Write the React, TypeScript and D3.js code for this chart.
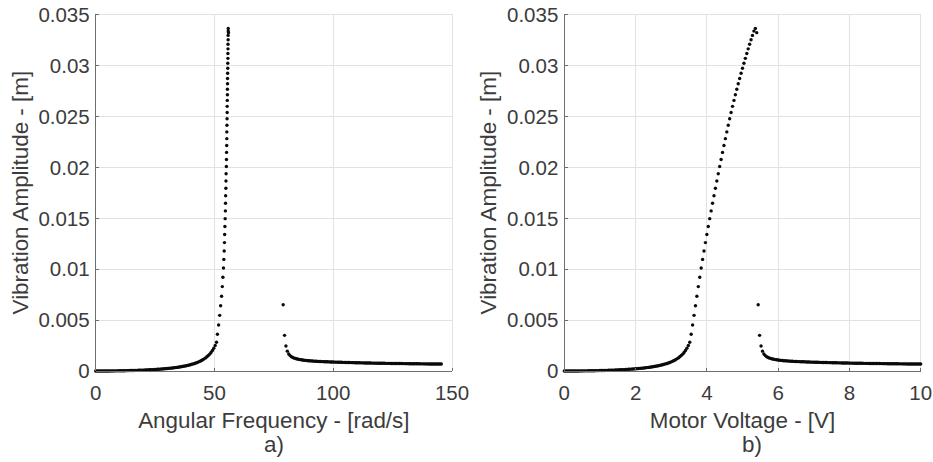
import React from "react";
import * as d3 from "d3";

// motor voltage sweep [V]
const voltage = [
  0.00, 0.04, 0.08, 0.12, 0.16, 0.20, 0.24, 0.28, 0.32, 0.36, 0.40, 0.44, 0.48, 0.52, 0.56, 0.60, 0.64, 0.68, 0.72, 0.76, 0.80, 0.84, 0.88, 0.92, 0.96,
  1.00, 1.04, 1.08, 1.12, 1.16, 1.20, 1.24, 1.28, 1.32, 1.36, 1.40, 1.44, 1.48, 1.52, 1.56, 1.60, 1.64, 1.68, 1.72, 1.76, 1.80, 1.84, 1.88, 1.92, 1.96,
  2.00, 2.04, 2.08, 2.12, 2.16, 2.20, 2.24, 2.28, 2.32, 2.36, 2.40, 2.44, 2.48, 2.52, 2.56, 2.60, 2.64, 2.68, 2.72, 2.76, 2.80, 2.84, 2.88, 2.92, 2.96,
  3.00, 3.04, 3.08, 3.12, 3.16, 3.20, 3.24, 3.28, 3.32, 3.36, 3.40, 3.44, 3.48, 3.52, 3.56, 3.60, 3.64, 3.68, 3.72, 3.76, 3.80, 3.84, 3.88, 3.92, 3.96,
  4.00, 4.04, 4.08, 4.12, 4.16, 4.20, 4.24, 4.28, 4.32, 4.36, 4.40, 4.44, 4.48, 4.52, 4.56, 4.60, 4.64, 4.68, 4.72, 4.76, 4.80, 4.84, 4.88, 4.92, 4.96,
  5.00, 5.04, 5.08, 5.12, 5.16, 5.20, 5.24, 5.28, 5.32, 5.36, 5.40, 5.44, 5.48, 5.52, 5.56, 5.60, 5.64, 5.68, 5.72, 5.76, 5.80, 5.84, 5.88, 5.92, 5.96,
  6.00, 6.04, 6.08, 6.12, 6.16, 6.20, 6.24, 6.28, 6.32, 6.36, 6.40, 6.44, 6.48, 6.52, 6.56, 6.60, 6.64, 6.68, 6.72, 6.76, 6.80, 6.84, 6.88, 6.92, 6.96,
  7.00, 7.04, 7.08, 7.12, 7.16, 7.20, 7.24, 7.28, 7.32, 7.36, 7.40, 7.44, 7.48, 7.52, 7.56, 7.60, 7.64, 7.68, 7.72, 7.76, 7.80, 7.84, 7.88, 7.92, 7.96,
  8.00, 8.04, 8.08, 8.12, 8.16, 8.20, 8.24, 8.28, 8.32, 8.36, 8.40, 8.44, 8.48, 8.52, 8.56, 8.60, 8.64, 8.68, 8.72, 8.76, 8.80, 8.84, 8.88, 8.92, 8.96,
  9.00, 9.04, 9.08, 9.12, 9.16, 9.20, 9.24, 9.28, 9.32, 9.36, 9.40, 9.44, 9.48, 9.52, 9.56, 9.60, 9.64, 9.68, 9.72, 9.76, 9.80, 9.84, 9.88, 9.92, 9.96,
  10.00,
];

// resulting angular frequency [rad/s]
const angularFrequency = [
  0, 0.58, 1.16, 1.73, 2.31, 2.89, 3.47, 4.05, 4.62, 5.20, 5.78, 6.36, 6.94, 7.51, 8.09, 8.67, 9.25, 9.83, 10.40, 10.98,
  11.56, 12.14, 12.72, 13.29, 13.87, 14.45, 15.03, 15.61, 16.18, 16.76, 17.34, 17.92, 18.50, 19.07, 19.65, 20.23, 20.81, 21.39, 21.96, 22.54,
  23.12, 23.70, 24.28, 24.85, 25.43, 26.01, 26.59, 27.17, 27.74, 28.32, 28.90, 29.48, 30.06, 30.63, 31.21, 31.79, 32.37, 32.95, 33.52, 34.10,
  34.68, 35.26, 35.84, 36.41, 36.99, 37.57, 38.15, 38.73, 39.30, 39.88, 40.46, 41.04, 41.62, 42.19, 42.77, 43.35, 43.93, 44.51, 45.08, 45.66,
  46.24, 46.82, 47.40, 47.97, 48.55, 49.13, 49.71, 50.29, 50.86,
  51.25, 51.75, 52.2, 52.6, 53.0, 53.3, 53.55, 53.8, 53.95, 54.1,
  54.2, 54.3, 54.4, 54.5, 54.6, 54.65, 54.7, 54.8, 54.85, 54.9,
  55.0, 55.05, 55.1, 55.15, 55.2, 55.2, 55.25, 55.3, 55.35, 55.35,
  55.4, 55.45, 55.45, 55.5, 55.5, 55.55, 55.6, 55.6, 55.65, 55.65,
  55.7, 55.7, 55.75, 55.75, 55.8, 55.8, 55.9,
  78.92, 79.51, 80.09, 80.68, 81.26, 81.84, 82.43, 83.01, 83.60, 84.18, 84.76, 85.35, 85.93, 86.52, 87.10,
  87.68, 88.27, 88.85, 89.44, 90.02, 90.60, 91.19, 91.77, 92.36, 92.94,
  93.52, 94.11, 94.69, 95.28, 95.86, 96.44, 97.03, 97.61, 98.20, 98.78,
  99.36, 99.95, 100.53, 101.12, 101.70, 102.28, 102.87, 103.45, 104.04, 104.62,
  105.20, 105.79, 106.37, 106.96, 107.54, 108.12, 108.71, 109.29, 109.88, 110.46,
  111.04, 111.63, 112.21, 112.80, 113.38, 113.96, 114.55, 115.13, 115.72, 116.30,
  116.88, 117.47, 118.05, 118.64, 119.22, 119.80, 120.39, 120.97, 121.56, 122.14,
  122.72, 123.31, 123.89, 124.48, 125.06, 125.64, 126.23, 126.81, 127.40, 127.98,
  128.56, 129.15, 129.73, 130.32, 130.90, 131.48, 132.07, 132.65, 133.24, 133.82,
  134.40, 134.99, 135.57, 136.16, 136.74, 137.32, 137.91, 138.49, 139.08, 139.66,
  140.24, 140.83, 141.41, 142.00, 142.58, 143.16, 143.75, 144.33, 144.92, 145.50,
];

// vibration amplitude [m]
const amplitude = [
  0, 0, 0, 0.000001, 0.000001, 0.000002, 0.000002, 0.000003, 0.000004, 0.000005,
  0.000006, 0.000008, 0.000009, 0.000011, 0.000013, 0.000015, 0.000017, 0.000019, 0.000021, 0.000024,
  0.000027, 0.000030, 0.000033, 0.000036, 0.000039, 0.000043, 0.000047, 0.000051, 0.000055, 0.000059,
  0.000064, 0.000068, 0.000073, 0.000079, 0.000084, 0.000090, 0.000096, 0.000102, 0.000109, 0.000116,
  0.000123, 0.000131, 0.000139, 0.000147, 0.000156, 0.000165, 0.000175, 0.000185, 0.000195, 0.000206,
  0.000218, 0.000230, 0.000243, 0.000256, 0.000270, 0.000285, 0.000301, 0.000318, 0.000335, 0.000354,
  0.000373, 0.000394, 0.000416, 0.000440, 0.000465, 0.000491, 0.000520, 0.000550, 0.000583, 0.000618,
  0.000655, 0.000696, 0.000740, 0.000788, 0.000840, 0.000897, 0.000960, 0.001029, 0.001105, 0.001190,
  0.001286, 0.001393, 0.001515, 0.001655, 0.001816, 0.002005, 0.002229, 0.002498, 0.002828,
  0.00360, 0.00452, 0.00546, 0.00640, 0.00734, 0.00828, 0.00920, 0.01010, 0.01095, 0.01178,
  0.01260, 0.01340, 0.01418, 0.01495, 0.01571, 0.01646, 0.01720, 0.01793, 0.01865, 0.01936,
  0.02006, 0.02076, 0.02145, 0.02213, 0.02280, 0.02346, 0.02411, 0.02475, 0.02537, 0.02597,
  0.02655, 0.02711, 0.02765, 0.02818, 0.02870, 0.02921, 0.02971, 0.03020, 0.03068, 0.03115,
  0.03161, 0.03206, 0.03250, 0.03293, 0.03335, 0.03360, 0.03320,
  0.00650, 0.00350, 0.00245, 0.00195, 0.00167, 0.00151, 0.00140, 0.00132, 0.00126, 0.00122,
  0.00118, 0.00115, 0.00112, 0.00110, 0.00108, 0.00106, 0.00104, 0.00103, 0.00101, 0.00100,
  0.00099, 0.00098, 0.00097, 0.00096, 0.00095,
  0.000944, 0.000937, 0.000931, 0.000924, 0.000918, 0.000912, 0.000907, 0.000901, 0.000896, 0.000890,
  0.000885, 0.000880, 0.000875, 0.000870, 0.000866, 0.000861, 0.000857, 0.000852, 0.000848, 0.000844,
  0.000840, 0.000836, 0.000832, 0.000828, 0.000825, 0.000821, 0.000818, 0.000814, 0.000811, 0.000807,
  0.000804, 0.000801, 0.000798, 0.000795, 0.000792, 0.000789, 0.000786, 0.000783, 0.000780, 0.000777,
  0.000775, 0.000772, 0.000769, 0.000767, 0.000764, 0.000762, 0.000759, 0.000757, 0.000755, 0.000752,
  0.000750, 0.000748, 0.000745, 0.000743, 0.000741, 0.000739, 0.000737, 0.000735, 0.000733, 0.000731,
  0.000729, 0.000727, 0.000725, 0.000723, 0.000721, 0.000719, 0.000717, 0.000716, 0.000714, 0.000712,
  0.000710, 0.000709, 0.000707, 0.000705, 0.000704, 0.000702, 0.000700, 0.000699, 0.000697, 0.000696,
  0.000694, 0.000693, 0.000691, 0.000690, 0.000688, 0.000687, 0.000685, 0.000684, 0.000682, 0.000681,
];

const amplitudeTicks = [0, 0.005, 0.01, 0.015, 0.02, 0.025, 0.03, 0.035];
const frequencyTicks = [0, 50, 100, 150];
const voltageTicks = [0, 2, 4, 6, 8, 10];

const W = 933;
const H = 462;
const plotTop = 14.3;
const plotBottom = 371;
const font = "'Liberation Sans', Arial, Helvetica, sans-serif";
const textColor = "#3c3c3c";
const axisColor = "#6e6e6e";
const gridColor = "#e2e2e2";
const fmt = d3.format("~g");

type PanelProps = {
  left: number;
  right: number;
  xMax: number;
  xTicks: number[];
  xs: number[];
  xLabel: string;
  tag: string;
  tagX: number;
  yLabelX: number;
};

function Panel({ left, right, xMax, xTicks, xs, xLabel, tag, tagX, yLabelX }: PanelProps) {
  const x = d3.scaleLinear().domain([0, xMax]).range([left, right]);
  const y = d3.scaleLinear().domain([0, 0.035]).range([plotBottom, plotTop]);
  const mid = (left + right) / 2;

  return (
    <g>
      {/* grid */}
      <g shapeRendering="crispEdges" stroke={gridColor} strokeWidth={1}>
        {xTicks.map(t => (
          <line key={"gx" + t} x1={x(t)} x2={x(t)} y1={plotTop} y2={plotBottom} />
        ))}
        {amplitudeTicks.map(t => (
          <line key={"gy" + t} x1={left} x2={right} y1={y(t)} y2={y(t)} />
        ))}
      </g>

      {/* markers */}
      <g fill="#0a0a0a">
        {xs.map((v, i) => (
          <circle key={i} cx={x(v)} cy={y(amplitude[i])} r={1.7} />
        ))}
      </g>

      {/* axes */}
      <g stroke={axisColor} strokeWidth={1} shapeRendering="crispEdges">
        <line x1={left} x2={left} y1={plotTop} y2={plotBottom} />
        <line x1={left} x2={right} y1={plotBottom} y2={plotBottom} />
        {xTicks.map(t => (
          <line key={"tx" + t} x1={x(t)} x2={x(t)} y1={plotBottom} y2={plotBottom - 3.5} />
        ))}
        {amplitudeTicks.map(t => (
          <line key={"ty" + t} x1={left} x2={left + 3.5} y1={y(t)} y2={y(t)} />
        ))}
      </g>

      <g fill={textColor} fontFamily={font} fontSize={20.5}>
        {amplitudeTicks.map(t => (
          <text key={"ly" + t} x={left - 6} y={y(t)} dy="0.36em" textAnchor="end">
            {fmt(t)}
          </text>
        ))}
        {xTicks.map(t => (
          <text key={"lx" + t} x={x(t)} y={400} textAnchor="middle">
            {fmt(t)}
          </text>
        ))}
      </g>

      <g fill={textColor} fontFamily={font} fontSize={22.4}>
        <text x={mid} y={428} textAnchor="middle">{xLabel}</text>
        <text x={tagX} y={452} textAnchor="middle">{tag}</text>
        <text
          transform={`translate(${yLabelX},${(plotTop + plotBottom) / 2}) rotate(-90)`}
          textAnchor="middle"
        >
          Vibration Amplitude - [m]
        </text>
      </g>
    </g>
  );
}

export default function App() {
  return (
    <svg
      width={W}
      height={H}
      viewBox={`0 0 ${W} ${H}`}
      style={{ position: "absolute", left: 0, top: 0, background: "#fff" }}
    >
      <rect width={W} height={H} fill="#fff" />
      <Panel
        left={95.7}
        right={452}
        xMax={150}
        xTicks={frequencyTicks}
        xs={angularFrequency}
        xLabel="Angular Frequency - [rad/s]"
        tag="a)"
        tagX={274}
        yLabelX={28}
      />
      <Panel
        left={564.3}
        right={920.7}
        xMax={10}
        xTicks={voltageTicks}
        xs={voltage}
        xLabel="Motor Voltage - [V]"
        tag="b)"
        tagX={752}
        yLabelX={496}
      />
    </svg>
  );
}
